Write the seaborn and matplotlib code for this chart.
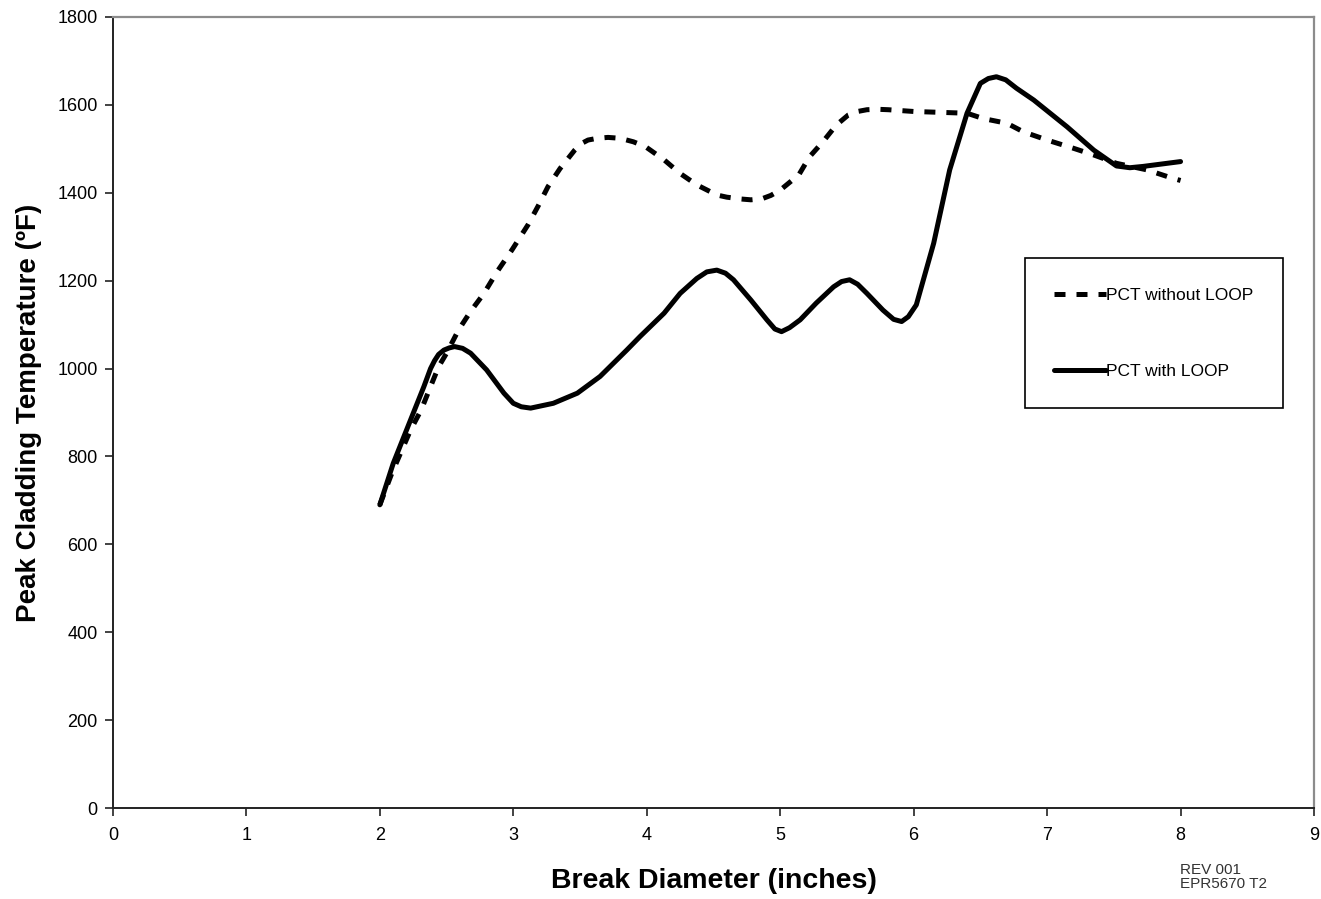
import numpy as np
import pandas as pd
import matplotlib
matplotlib.use("Agg")
import matplotlib.pyplot as plt
import seaborn as sns

# ====== Values ======
# PCT with LOOP (solid line)
with_x = [2.00, 2.10, 2.23, 2.33, 2.38, 2.41, 2.44, 2.48, 2.52, 2.56, 2.62, 2.68,
          2.80, 2.93, 3.00, 3.06, 3.13, 3.30, 3.48, 3.65, 3.85, 3.95, 4.13,
          4.25, 4.375, 4.45, 4.525, 4.59, 4.65, 4.78, 4.90, 4.96, 5.01, 5.07,
          5.15, 5.27, 5.40, 5.46, 5.52, 5.58, 5.65, 5.77, 5.85, 5.91, 5.96,
          6.02, 6.15, 6.27, 6.40, 6.50, 6.56, 6.62, 6.69, 6.77, 6.90, 7.15,
          7.35, 7.52, 7.62, 7.72, 8.00]
with_y = [690, 784, 883, 959, 1000, 1018, 1032, 1042, 1047, 1050, 1046, 1035,
          997, 944, 921, 913, 910, 921, 944, 982, 1042, 1073, 1126,
          1171, 1205, 1220, 1224, 1217, 1202, 1156, 1111, 1090, 1084, 1093,
          1111, 1149, 1186, 1198, 1202, 1192, 1171, 1133, 1112, 1107, 1118,
          1145, 1285, 1452, 1581, 1649, 1660, 1664, 1657, 1638, 1611, 1550,
          1497, 1461, 1457, 1460, 1471]

# PCT without LOOP (dashed line)
without_x = [2.00, 2.09, 2.23, 2.31, 2.38, 2.44, 2.50, 2.59, 2.68, 2.78, 2.88,
             2.99, 3.11, 3.19, 3.26, 3.35, 3.46, 3.51, 3.56, 3.63, 3.71, 3.80,
             3.90, 3.99, 4.13, 4.25, 4.375, 4.525, 4.60, 4.70, 4.78, 4.86, 4.93,
             5.00, 5.14, 5.22, 5.32, 5.42, 5.51, 5.58, 5.65, 5.73, 5.81, 6.00,
             6.20, 6.40, 6.52, 6.70, 6.82, 7.00, 7.20, 7.35, 7.52, 7.75, 7.94,
             8.00]
without_y = [690, 762, 860, 906, 959, 1004, 1035, 1088, 1130, 1171, 1221,
             1270, 1327, 1372, 1414, 1455, 1497, 1512, 1520, 1524, 1526, 1524,
             1516, 1505, 1475, 1444, 1418, 1395, 1390, 1386, 1384, 1386, 1394,
             1406, 1441, 1482, 1516, 1554, 1577, 1585, 1589, 1590, 1589, 1585,
             1583, 1581, 1569, 1558, 1539, 1520, 1501, 1486, 1467, 1452, 1433,
             1428]

series_names = ["PCT without LOOP", "PCT with LOOP"]

df = pd.concat([
    pd.DataFrame({"x": without_x, "y": without_y, "series": series_names[0]}),
    pd.DataFrame({"x": with_x, "y": with_y, "series": series_names[1]}),
], ignore_index=True)

# ====== Plot ======
sns.set_style("white")
plt.rcParams["font.family"] = ["Liberation Sans", "DejaVu Sans"]
plt.rcParams["lines.solid_capstyle"] = "round"
plt.rcParams["lines.solid_joinstyle"] = "round"

fig = plt.figure(figsize=(13.21, 8.99), dpi=100)
ax = fig.add_axes([0.0855, 0.1012, 0.9092, 0.8799])

sns.lineplot(data=df, x="x", y="y", style="series", style_order=series_names,
             dashes={series_names[0]: (2.2, 2.2), series_names[1]: ""},
             color="black", linewidth=3.6, estimator=None, sort=False, ax=ax)

ax.set_xlim(0, 9)
ax.set_ylim(0, 1800)
ax.set_xticks(range(0, 10))
ax.set_yticks(range(0, 1801, 200))
ax.tick_params(axis="both", direction="out", length=6, width=1.2,
               color="#222222", labelcolor="black", labelsize=13,
               bottom=True, left=True)
ax.tick_params(axis="x", pad=8)
ax.tick_params(axis="y", pad=5)

for side in ["left", "bottom"]:
    ax.spines[side].set_color("#222222")
    ax.spines[side].set_linewidth(1.4)
for side in ["top", "right"]:
    ax.spines[side].set_color("#8c8c8c")
    ax.spines[side].set_linewidth(1.6)

ax.set_xlabel("Break Diameter (inches)", fontsize=20.5, fontweight="bold",
              color="black", labelpad=17)
ax.set_ylabel("Peak Cladding Temperature (ºF)", fontsize=20, fontweight="bold",
              color="black", labelpad=11)

leg = ax.legend(loc="upper left", bbox_to_anchor=(0.759, 0.497, 0.215, 0.198),
                mode="expand", fontsize=12.5, frameon=True, fancybox=False,
                handlelength=3.0, handletextpad=0.0, labelspacing=3.5,
                borderpad=1.7, borderaxespad=0, title=None)
leg.get_frame().set_edgecolor("black")
leg.get_frame().set_linewidth(1.2)
leg.get_frame().set_alpha(1)
for t in leg.get_texts():
    t.set_color("black")

fig.text(0.893, 0.009, "REV 001\nEPR5670 T2", fontsize=11, color="#333333",
         linespacing=1.0, ha="left", va="bottom")

plt.savefig("out.png", dpi=100)
